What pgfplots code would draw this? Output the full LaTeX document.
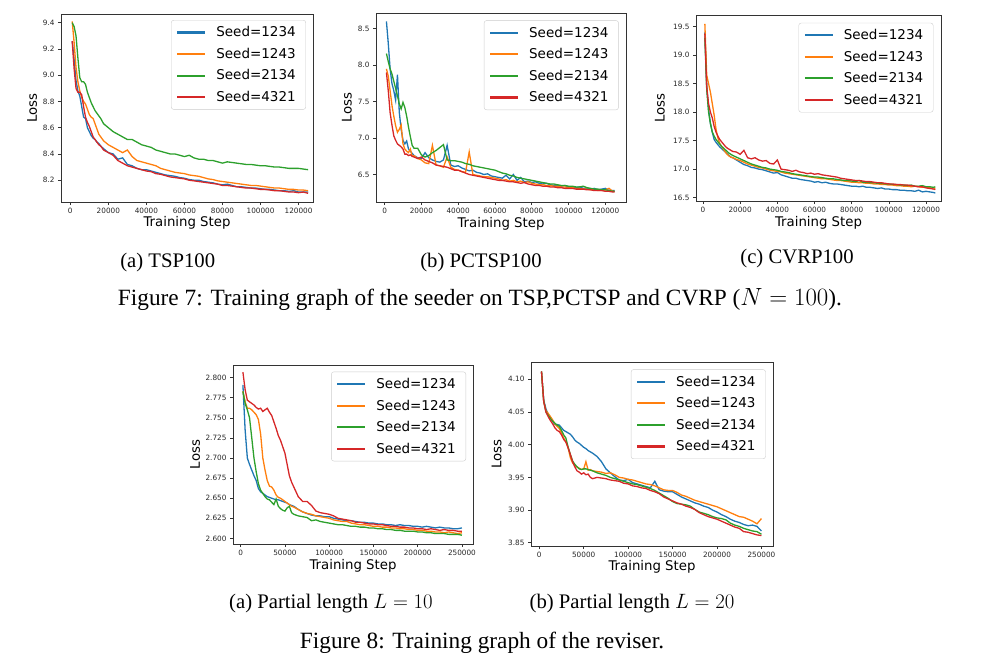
\documentclass[border=0pt]{standalone}
\usepackage{fontspec}
\setmainfont{Liberation Serif}
\newfontfamily\dejavu{DejaVu Sans}
\usepackage{pgfplots}
\usepackage{pgfplotstable}
\pgfplotsset{compat=1.18}
\definecolor{tb}{HTML}{1F77B4}
\definecolor{to}{HTML}{FF7F0E}
\definecolor{tg}{HTML}{2CA02C}
\definecolor{tr}{HTML}{D62728}

\pgfplotstableread{
x b o g r
1000 9.26 9.41 9.40 9.26
2000 9.12 9.25 9.37 9.05
3000 8.96 9.06 9.30 8.90
4000 8.88 8.95 9.13 8.87
5000 8.84 8.88 8.98 8.87
6000 8.76 8.83 8.95 8.85
7000 8.68 8.80 8.95 8.76
8000 8.67 8.78 8.93 8.68
9000 8.60 8.74 8.87 8.64
10000 8.57 8.70 8.83 8.61
11000 8.54 8.68 8.79 8.57
12000 8.52 8.67 8.76 8.53
13000 8.51 8.63 8.73 8.51
14000 8.49 8.59 8.71 8.49
15000 8.48 8.55 8.69 8.47
16000 8.46 8.53 8.67 8.46
17500 8.44 8.50 8.63 8.43
20000 8.41 8.47 8.60 8.41
22500 8.40 8.45 8.57 8.39
25000 8.36 8.43 8.55 8.35
27500 8.37 8.41 8.53 8.33
30000 8.32 8.43 8.51 8.31
32500 8.31 8.38 8.51 8.30
35000 8.29 8.35 8.49 8.29
37500 8.28 8.34 8.47 8.28
40000 8.28 8.33 8.46 8.27
42500 8.27 8.32 8.45 8.265
45000 8.26 8.31 8.43 8.25
47500 8.25 8.29 8.42 8.245
50000 8.24 8.28 8.41 8.235
52500 8.235 8.27 8.40 8.225
55000 8.23 8.26 8.40 8.22
57500 8.22 8.255 8.39 8.215
60000 8.215 8.25 8.38 8.21
62500 8.205 8.24 8.39 8.20
65000 8.20 8.235 8.37 8.195
67500 8.20 8.23 8.36 8.19
70000 8.19 8.22 8.36 8.185
72500 8.185 8.21 8.35 8.18
75000 8.18 8.205 8.35 8.175
77500 8.17 8.195 8.34 8.17
80000 8.165 8.19 8.33 8.16
82500 8.17 8.185 8.34 8.16
85000 8.16 8.18 8.335 8.155
87500 8.15 8.175 8.33 8.15
90000 8.15 8.17 8.325 8.145
92500 8.145 8.165 8.32 8.14
95000 8.14 8.16 8.32 8.14
97500 8.14 8.16 8.315 8.135
100000 8.135 8.155 8.31 8.13
102500 8.13 8.15 8.31 8.13
105000 8.13 8.145 8.305 8.125
107500 8.125 8.14 8.30 8.12
110000 8.12 8.14 8.30 8.12
112500 8.12 8.135 8.295 8.115
115000 8.115 8.13 8.29 8.11
117500 8.12 8.13 8.29 8.11
120000 8.11 8.125 8.29 8.105
122500 8.11 8.125 8.285 8.11
125000 8.11 8.12 8.28 8.10
}\tabA

\pgfplotstableread{
x b o g r
1000 8.60 7.95 8.16 7.90
2000 8.30 7.85 8.05 7.65
3000 7.95 7.65 7.95 7.35
4000 7.75 7.45 7.88 7.18
5000 7.65 7.30 7.78 7.03
6000 7.52 7.17 7.68 6.97
7000 7.87 7.08 7.58 6.92
8000 7.35 7.12 7.47 6.90
9000 7.12 7.18 7.40 6.88
10000 6.97 6.92 7.49 6.85
11000 6.92 6.85 7.42 6.78
12000 6.96 6.82 7.30 6.78
13000 6.85 6.80 7.15 6.76
14000 6.82 6.85 7.02 6.77
15000 6.79 6.75 6.90 6.75
16000 6.76 6.76 6.86 6.74
18000 6.73 6.72 6.86 6.72
20000 6.72 6.70 6.77 6.74
22000 6.80 6.66 6.74 6.70
24000 6.73 6.65 6.76 6.68
26000 6.70 6.90 6.80 6.66
28000 6.68 6.63 6.83 6.63
30000 6.67 6.62 6.87 6.62
32000 6.70 6.60 6.91 6.61
34000 6.90 6.74 6.70 6.60
36000 6.63 6.60 6.69 6.58
38000 6.61 6.57 6.69 6.56
40000 6.62 6.56 6.68 6.56
42000 6.59 6.54 6.67 6.54
44000 6.57 6.53 6.65 6.52
46000 6.55 6.81 6.64 6.50
48000 6.56 6.50 6.62 6.49
50000 6.53 6.49 6.61 6.48
52000 6.52 6.48 6.60 6.47
54000 6.50 6.47 6.59 6.46
56000 6.51 6.47 6.58 6.45
58000 6.48 6.46 6.57 6.44
60000 6.47 6.45 6.56 6.43
62000 6.46 6.44 6.54 6.42
64000 6.45 6.42 6.52 6.42
66000 6.49 6.43 6.51 6.41
68000 6.44 6.41 6.49 6.40
70000 6.50 6.42 6.48 6.40
72000 6.42 6.40 6.46 6.39
74000 6.46 6.41 6.45 6.38
76000 6.40 6.39 6.44 6.39
78000 6.41 6.40 6.43 6.37
80000 6.39 6.38 6.42 6.36
82000 6.40 6.37 6.41 6.35
84000 6.38 6.36 6.40 6.35
86000 6.37 6.36 6.39 6.34
88000 6.38 6.35 6.38 6.34
90000 6.36 6.35 6.37 6.33
92000 6.35 6.34 6.37 6.33
94000 6.35 6.34 6.36 6.32
96000 6.34 6.33 6.35 6.32
98000 6.35 6.33 6.35 6.31
100000 6.33 6.32 6.34 6.31
102000 6.33 6.32 6.34 6.31
104000 6.32 6.31 6.33 6.30
106000 6.33 6.31 6.33 6.30
108000 6.31 6.30 6.34 6.30
110000 6.31 6.30 6.32 6.29
112000 6.30 6.29 6.31 6.29
114000 6.31 6.29 6.30 6.28
116000 6.29 6.28 6.30 6.28
118000 6.30 6.28 6.29 6.28
120000 6.31 6.29 6.29 6.27
122000 6.28 6.31 6.28 6.27
124000 6.28 6.27 6.27 6.26
125000 6.28 6.27 6.27 6.26
}\tabB

\pgfplotstableread{
x b o g r
1000 19.40 19.55 19.30 19.38
2000 18.45 18.65 18.40 18.45
3000 18.05 18.50 18.00 18.15
4000 17.80 18.35 17.80 18.00
5000 17.65 18.15 17.65 17.90
6000 17.52 17.95 17.58 17.75
7000 17.47 17.70 17.52 17.65
8000 17.43 17.55 17.48 17.58
9000 17.39 17.45 17.44 17.52
10000 17.36 17.40 17.40 17.48
11000 17.33 17.35 17.37 17.44
12000 17.30 17.30 17.34 17.40
13000 17.27 17.26 17.31 17.37
14000 17.24 17.23 17.28 17.35
15000 17.21 17.21 17.26 17.33
16000 17.20 17.20 17.24 17.31
18000 17.16 17.17 17.21 17.30
20000 17.12 17.15 17.18 17.26
22000 17.08 17.12 17.15 17.33
24000 17.06 17.09 17.12 17.20
26000 17.03 17.07 17.09 17.18
28000 17.02 17.05 17.07 17.20
30000 17.00 17.03 17.05 17.16
32000 16.99 17.02 17.03 17.14
34000 16.97 17.00 17.02 17.15
36000 16.95 16.98 17.00 17.10
38000 16.93 16.97 16.99 17.09
40000 16.94 16.96 16.98 17.16
42000 16.90 16.95 16.96 17.00
44000 16.88 16.93 16.95 16.99
46000 16.86 16.92 16.94 16.98
48000 16.84 16.91 16.92 16.96
50000 16.84 16.90 16.91 16.98
52000 16.82 16.89 16.90 16.95
54000 16.81 16.88 16.89 16.94
56000 16.80 16.87 16.88 16.92
58000 16.79 16.86 16.87 16.93
60000 16.77 16.85 16.86 16.91
62000 16.78 16.84 16.86 16.92
64000 16.76 16.83 16.85 16.90
66000 16.77 16.83 16.84 16.89
68000 16.75 16.82 16.83 16.88
70000 16.74 16.81 16.83 16.87
72000 16.74 16.80 16.82 16.86
74000 16.73 16.80 16.81 16.84
76000 16.72 16.79 16.80 16.83
78000 16.71 16.78 16.80 16.82
80000 16.70 16.77 16.79 16.81
82000 16.70 16.77 16.78 16.80
84000 16.69 16.76 16.80 16.80
86000 16.70 16.76 16.77 16.79
88000 16.68 16.75 16.77 16.78
90000 16.68 16.75 16.76 16.78
92000 16.67 16.74 16.76 16.77
94000 16.66 16.74 16.75 16.76
96000 16.67 16.73 16.75 16.76
98000 16.65 16.73 16.74 16.75
100000 16.65 16.72 16.74 16.74
102000 16.64 16.72 16.73 16.74
104000 16.64 16.71 16.73 16.73
106000 16.63 16.71 16.72 16.73
108000 16.63 16.70 16.72 16.72
110000 16.62 16.70 16.71 16.72
112000 16.62 16.69 16.72 16.71
114000 16.61 16.70 16.70 16.70
116000 16.63 16.69 16.70 16.69
118000 16.60 16.68 16.71 16.69
120000 16.61 16.68 16.69 16.67
122000 16.60 16.67 16.69 16.66
124000 16.59 16.67 16.68 16.65
125000 16.58 16.66 16.69 16.64
}\tabC

\pgfplotstableread{
x b o g r
2500 2.791 2.783 2.783 2.807
5000 2.735 2.770 2.768 2.785
7500 2.700 2.762 2.760 2.772
10000 2.692 2.762 2.750 2.770
12500 2.685 2.760 2.725 2.768
15000 2.678 2.757 2.700 2.766
17500 2.672 2.754 2.683 2.763
20000 2.662 2.748 2.668 2.761
22500 2.658 2.730 2.660 2.762
25000 2.656 2.700 2.656 2.758
27500 2.654 2.685 2.652 2.760
30000 2.652 2.672 2.649 2.762
32500 2.651 2.665 2.648 2.757
35000 2.650 2.664 2.645 2.753
37500 2.649 2.660 2.642 2.745
40000 2.648 2.654 2.649 2.737
42500 2.648 2.651 2.640 2.728
45000 2.647 2.650 2.637 2.722
47500 2.646 2.648 2.635 2.714
50000 2.645 2.646 2.634 2.706
52500 2.644 2.644 2.638 2.692
55000 2.642 2.642 2.640 2.678
57500 2.641 2.640 2.632 2.670
60000 2.640 2.639 2.630 2.664
65000 2.636 2.636 2.628 2.652
70000 2.633 2.633 2.627 2.646
75000 2.631 2.631 2.626 2.646
80000 2.629 2.630 2.622 2.641
85000 2.628 2.628 2.623 2.634
90000 2.628 2.627 2.621 2.632
95000 2.627 2.626 2.620 2.631
100000 2.627 2.625 2.619 2.630
105000 2.625 2.623 2.618 2.628
110000 2.624 2.622 2.617 2.625
115000 2.623 2.621 2.617 2.624
120000 2.622 2.621 2.616 2.623
125000 2.622 2.619 2.615 2.622
130000 2.621 2.618 2.615 2.620
135000 2.620 2.617 2.614 2.620
140000 2.620 2.617 2.614 2.619
145000 2.619 2.616 2.613 2.618
150000 2.619 2.615 2.613 2.618
155000 2.618 2.615 2.612 2.617
160000 2.618 2.614 2.612 2.617
165000 2.617 2.614 2.611 2.616
170000 2.617 2.613 2.611 2.615
175000 2.616 2.613 2.610 2.615
180000 2.617 2.612 2.610 2.614
185000 2.616 2.612 2.609 2.614
190000 2.616 2.611 2.609 2.613
195000 2.615 2.611 2.609 2.613
200000 2.615 2.610 2.608 2.612
205000 2.614 2.610 2.608 2.612
210000 2.615 2.609 2.607 2.611
215000 2.614 2.609 2.607 2.612
220000 2.613 2.608 2.606 2.611
225000 2.614 2.608 2.606 2.610
230000 2.613 2.607 2.606 2.611
235000 2.613 2.608 2.605 2.610
240000 2.612 2.607 2.605 2.610
245000 2.612 2.606 2.605 2.609
250000 2.613 2.607 2.604 2.609
}\tabD

\pgfplotstableread{
x b o g r
2500 4.112 4.112 4.112 4.112
5000 4.068 4.066 4.067 4.066
7500 4.055 4.052 4.050 4.050
10000 4.046 4.048 4.045 4.043
12500 4.042 4.043 4.040 4.037
15000 4.036 4.038 4.036 4.032
17500 4.031 4.032 4.033 4.026
20000 4.031 4.028 4.030 4.022
22500 4.030 4.025 4.028 4.020
25000 4.026 4.018 4.022 4.015
27500 4.022 4.010 4.015 4.008
30000 4.020 4.004 4.010 4.004
32500 4.018 3.995 3.996 3.995
35000 4.016 3.980 3.985 3.985
37500 4.012 3.972 3.975 3.974
40000 4.007 3.968 3.970 3.966
42500 4.004 3.966 3.966 3.960
45000 4.002 3.964 3.963 3.958
47500 3.999 3.962 3.962 3.955
50000 3.996 3.963 3.963 3.957
52500 3.994 3.974 3.963 3.954
55000 3.991 3.961 3.962 3.955
57500 3.989 3.962 3.961 3.950
60000 3.987 3.960 3.960 3.948
65000 3.982 3.959 3.957 3.950
70000 3.974 3.958 3.955 3.949
75000 3.963 3.956 3.953 3.948
80000 3.957 3.957 3.950 3.946
85000 3.951 3.954 3.948 3.945
90000 3.946 3.950 3.946 3.944
95000 3.945 3.949 3.944 3.941
100000 3.947 3.947 3.942 3.940
105000 3.942 3.946 3.940 3.937
110000 3.940 3.944 3.939 3.936
115000 3.938 3.942 3.937 3.934
120000 3.936 3.940 3.935 3.933
125000 3.934 3.939 3.933 3.930
130000 3.944 3.937 3.930 3.928
135000 3.931 3.934 3.926 3.925
140000 3.929 3.931 3.922 3.920
145000 3.928 3.930 3.918 3.917
150000 3.928 3.930 3.913 3.914
155000 3.924 3.927 3.910 3.911
160000 3.920 3.923 3.909 3.909
165000 3.917 3.921 3.908 3.906
170000 3.914 3.918 3.906 3.904
175000 3.911 3.915 3.901 3.901
180000 3.909 3.913 3.897 3.896
185000 3.906 3.911 3.895 3.893
190000 3.904 3.909 3.893 3.890
195000 3.900 3.907 3.890 3.888
200000 3.897 3.905 3.888 3.886
205000 3.893 3.902 3.887 3.883
210000 3.890 3.899 3.885 3.880
215000 3.886 3.896 3.880 3.877
220000 3.883 3.893 3.877 3.874
225000 3.881 3.890 3.875 3.872
230000 3.878 3.889 3.872 3.867
235000 3.876 3.886 3.870 3.866
240000 3.877 3.883 3.868 3.864
245000 3.875 3.879 3.867 3.862
250000 3.868 3.887 3.863 3.861
}\tabE

\newcommand{\labfont}{\dejavu\fontsize{13.3}{15}\selectfont}
\pgfplotsset{
  mystyle/.style={
    scale only axis,
    axis line style={black!80, line width=0.6pt},
    tick style={black!80, line width=0.6pt},
    tick align=outside,
    tick pos=left,
    major tick length=3pt,
    ticklabel style={font=\dejavu\fontsize{7.3}{8}\selectfont, text=black!85},
    /pgf/number format/assume math mode=true,
    /pgf/number format/1000 sep={},
    scaled ticks=false,
    xticklabel style={/pgf/number format/.cd, fixed, precision=0, 1000 sep={}},
    xlabel={Training Step},
    ylabel={Loss},
    legend cell align=left,
    legend image code/.code={\draw[##1, line width=2.1pt] (0pt,0pt) -- (28pt,0pt); \path[draw=none, fill=none] (0pt,0pt) -- (34pt,0pt);},
    legend style={anchor=north east, draw=black!20, rounded corners=2.5pt,
      fill=white, fill opacity=0.8, text opacity=1,
      font=\dejavu\fontsize{13.5}{15}\selectfont,
      inner xsep=5pt, inner ysep=1.5pt, row sep=0pt,
      nodes={inner xsep=5pt, inner ysep=4.9pt}},
    every axis plot/.append style={line width=1.3pt},
  }
}

\begin{document}
\begin{tikzpicture}
\path[use as bounding box] (0pt,0pt) rectangle (984pt,-664pt);

% (a) TSP100
\begin{axis}[mystyle, at={(61pt,-14pt)}, anchor=north west,
  width=252pt, height=188pt,
  xmin=-4890, xmax=127570, ymin=8.034, ymax=9.466,
  xtick={0,20000,40000,60000,80000,100000,120000},
  ytick={8.2,8.4,8.6,8.8,9.0,9.2,9.4},
  yticklabel style={/pgf/number format/.cd, fixed, fixed zerofill, precision=1},
  every axis x label/.style={at={(axis description cs:0.5,-0.113)}, anchor=center, font=\labfont},
  every axis y label/.style={at={(axis description cs:-0.115,0.5)}, rotate=90, anchor=center, font=\labfont},
  legend style={at={(axis description cs:0.972,0.968)}}]
\addplot[tb] table[x=x,y=b] {\tabA};
\addplot[to] table[x=x,y=o] {\tabA};
\addplot[tg] table[x=x,y=g] {\tabA};
\addplot[tr] table[x=x,y=r] {\tabA};
\legend{Seed=1234,Seed=1243,Seed=2134,Seed=4321}
\end{axis}

% (b) PCTSP100
\begin{axis}[mystyle, at={(376pt,-13pt)}, anchor=north west,
  width=250pt, height=189pt,
  xmin=-4670, xmax=131250, ymin=6.123, ymax=8.716,
  xtick={0,20000,40000,60000,80000,100000,120000},
  ytick={6.5,7.0,7.5,8.0,8.5},
  yticklabel style={/pgf/number format/.cd, fixed, fixed zerofill, precision=1},
  every axis x label/.style={at={(axis description cs:0.5,-0.114)}, anchor=center, font=\labfont},
  every axis y label/.style={at={(axis description cs:-0.117,0.5)}, rotate=90, anchor=center, font=\labfont},
  legend style={at={(axis description cs:0.971,0.961)}}]
\addplot[tb] table[x=x,y=b] {\tabB};
\addplot[to] table[x=x,y=o] {\tabB};
\addplot[tg] table[x=x,y=g] {\tabB};
\addplot[tr] table[x=x,y=r] {\tabB};
\legend{Seed=1234,Seed=1243,Seed=2134,Seed=4321}
\end{axis}

% (c) CVRP100
\begin{axis}[mystyle, at={(696pt,-15pt)}, anchor=north west,
  width=245pt, height=186pt,
  xmin=-3760, xmax=128060, ymin=16.44, ymax=19.706,
  xtick={0,20000,40000,60000,80000,100000,120000},
  ytick={16.5,17.0,17.5,18.0,18.5,19.0,19.5},
  yticklabel style={/pgf/number format/.cd, fixed, fixed zerofill, precision=1},
  every axis x label/.style={at={(axis description cs:0.5,-0.118)}, anchor=center, font=\labfont},
  every axis y label/.style={at={(axis description cs:-0.147,0.5)}, rotate=90, anchor=center, font=\labfont},
  legend style={at={(axis description cs:0.969,0.958)}}]
\addplot[tb] table[x=x,y=b] {\tabC};
\addplot[to] table[x=x,y=o] {\tabC};
\addplot[tg] table[x=x,y=g] {\tabC};
\addplot[tr] table[x=x,y=r] {\tabC};
\legend{Seed=1234,Seed=1243,Seed=2134,Seed=4321}
\end{axis}

% (a) L=10
\begin{axis}[mystyle, at={(233pt,-365pt)}, anchor=north west,
  width=240pt, height=179pt,
  xmin=-8700, xmax=262500, ymin=2.593, ymax=2.8158,
  xtick={0,50000,100000,150000,200000,250000},
  ytick={2.600,2.625,2.650,2.675,2.700,2.725,2.750,2.775,2.800},
  yticklabel style={/pgf/number format/.cd, fixed, fixed zerofill, precision=3},
  every axis x label/.style={at={(axis description cs:0.5,-0.12)}, anchor=center, font=\labfont},
  every axis y label/.style={at={(axis description cs:-0.158,0.5)}, rotate=90, anchor=center, font=\labfont},
  legend style={at={(axis description cs:0.971,0.963)}}]
\addplot[tb] table[x=x,y=b] {\tabD};
\addplot[to] table[x=x,y=o] {\tabD};
\addplot[tg] table[x=x,y=g] {\tabD};
\addplot[tr] table[x=x,y=r] {\tabD};
\legend{Seed=1234,Seed=1243,Seed=2134,Seed=4321}
\end{axis}

% (b) L=20
\begin{axis}[mystyle, at={(531pt,-362pt)}, anchor=north west,
  width=242pt, height=184pt,
  xmin=-9300, xmax=263000, ymin=3.845, ymax=4.1265,
  xtick={0,50000,100000,150000,200000,250000},
  ytick={3.85,3.90,3.95,4.00,4.05,4.10},
  yticklabel style={/pgf/number format/.cd, fixed, fixed zerofill, precision=2},
  every axis x label/.style={at={(axis description cs:0.5,-0.114)}, anchor=center, font=\labfont},
  every axis y label/.style={at={(axis description cs:-0.142,0.5)}, rotate=90, anchor=center, font=\labfont},
  legend style={at={(axis description cs:0.97,0.96)}}]
\addplot[tb] table[x=x,y=b] {\tabE};
\addplot[to] table[x=x,y=o] {\tabE};
\addplot[tg] table[x=x,y=g] {\tabE};
\addplot[tr] table[x=x,y=r] {\tabE};
\legend{Seed=1234,Seed=1243,Seed=2134,Seed=4321}
\end{axis}

% captions
\begin{scope}[every node/.style={font=\fontsize{20.7}{24}\selectfont, anchor=base, inner sep=0pt}]
\node at (167.7pt,-267pt) {(a) TSP100};
\node at (481pt,-267pt) {(b) PCTSP100};
\node at (797pt,-263pt) {(c) CVRP100};
\node at (331pt,-608pt) {(a) Partial length $L=10$};
\node at (632pt,-608pt) {(b) Partial length $L=20$};
\end{scope}
\begin{scope}[every node/.style={font=\fontsize{23.3}{27}\selectfont, anchor=base, inner sep=0pt}]
\node at (480pt,-305pt) {Figure 7: Training graph of the seeder on TSP,PCTSP and CVRP ($N=100$).};
\node at (482pt,-648pt) {Figure 8: Training graph of the reviser.};
\end{scope}
\end{tikzpicture}
\end{document}
